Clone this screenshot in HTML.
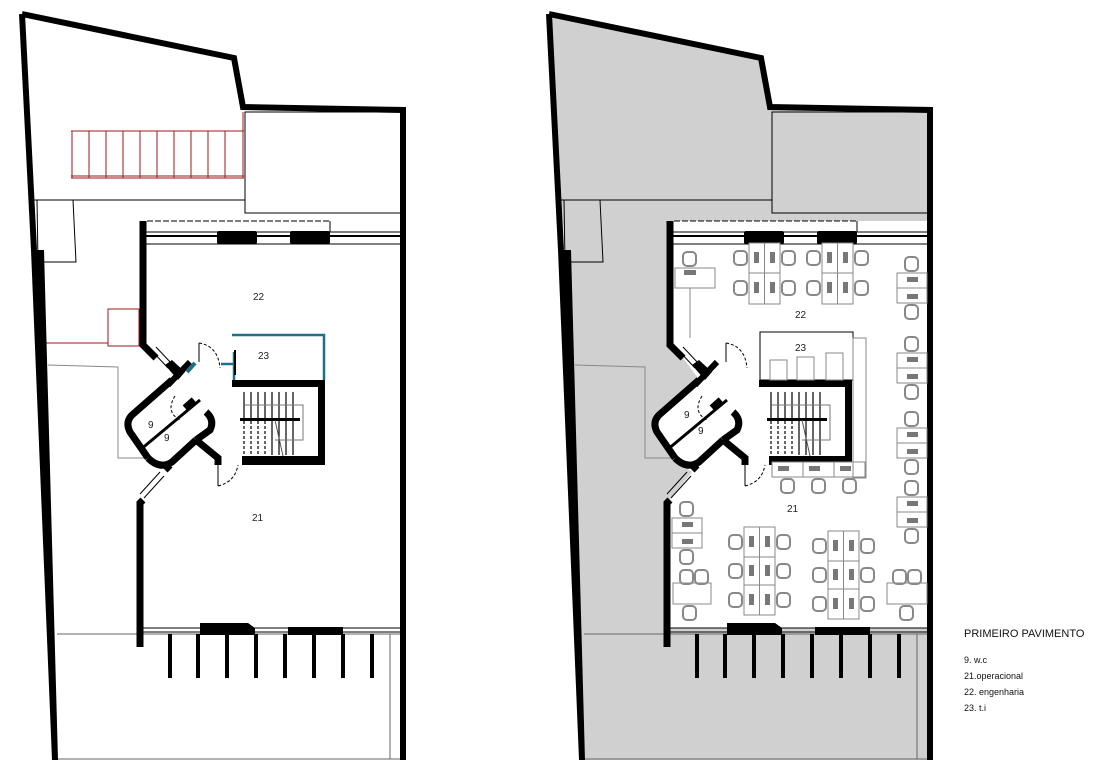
<!DOCTYPE html>
<html><head><meta charset="utf-8"><style>
html,body{margin:0;padding:0;background:#fff;}
svg{display:block;font-family:"Liberation Sans",sans-serif;}
</style></head><body>
<svg width="1099" height="781" viewBox="0 0 1099 781" xmlns="http://www.w3.org/2000/svg">
<defs>
<g id="base">
  <g fill="none" stroke="#000" stroke-width="1">
    <rect x="245" y="112" width="156" height="101"/>
    <line x1="34" y1="200" x2="245" y2="200"/>
    <polyline points="37,200 38,262 76,262 73,200"/>
    <line x1="57" y1="634" x2="403" y2="634" stroke="#666"/>
    <line x1="58" y1="759" x2="403" y2="759" stroke="#666"/>
    <line x1="390" y1="634" x2="390" y2="759" stroke="#666"/>
    <polyline points="48,365 118,367 118,458 148,458" stroke="#888"/>
    <line x1="147" y1="221" x2="330" y2="221" stroke-dasharray="6,2"/>
    <line x1="330" y1="221" x2="330" y2="232"/>
  </g>
  <polyline points="22,14 234,58 243,107 403,110 403,760" fill="none" stroke="#000" stroke-width="6" stroke-linejoin="miter"/>
  <polyline points="22,14 34,250" fill="none" stroke="#000" stroke-width="6"/>
  <polygon points="31,250 44,250 58,760 52,760" fill="#000"/>
  <g stroke="#000" stroke-width="1">
    <line x1="146" y1="232" x2="400" y2="232"/>
    <line x1="146" y1="236" x2="400" y2="236" stroke-width="2"/>
    <line x1="146" y1="244" x2="400" y2="244"/>
  </g>
  <rect x="217" y="231" width="40" height="13" rx="2" fill="#000"/>
  <rect x="290" y="231" width="40" height="13" rx="2" fill="#000"/>
  <g stroke="#000" stroke-width="1">
    <line x1="143" y1="628" x2="400" y2="628"/>
    <line x1="143" y1="632" x2="400" y2="632"/>
  </g>
  <polygon points="200,623 248,623 255,628 255,635 200,635" fill="#000"/>
  <rect x="288" y="627" width="55" height="8" fill="#000"/>
  <g fill="#000">
    <rect x="168" y="634" width="4" height="44"/><rect x="196" y="634" width="4" height="44"/>
    <rect x="225" y="634" width="4" height="44"/><rect x="254" y="634" width="4" height="44"/>
    <rect x="283" y="634" width="4" height="44"/><rect x="312" y="634" width="4" height="44"/>
    <rect x="341" y="634" width="4" height="44"/><rect x="370" y="634" width="4" height="44"/>
  </g>
  <polyline points="143,221 143,345 156,358" fill="none" stroke="#000" stroke-width="7"/>
  <g stroke="#000" stroke-width="1" fill="none">
    <line x1="152" y1="351" x2="168" y2="368"/><line x1="156" y1="347" x2="172" y2="364"/>
  </g>
  <polygon points="165,365 172,360 185,372 178,380" fill="#000"/>
  <polyline points="190,362 168,385" stroke="#000" stroke-width="6"/>
  <path d="M172,380 L132,415 Q125,422 130,432 L148,458" fill="none" stroke="#000" stroke-width="7"/>
  <path d="M148,458 Q160,470 172,462 L196,440" fill="none" stroke="#000" stroke-width="7"/>
  <line x1="140" y1="450" x2="200" y2="400" stroke="#000" stroke-width="3"/>
  <line x1="185" y1="408" x2="194" y2="400" stroke="#000" stroke-width="7"/>
  <path d="M206,412 Q215,420 210,430 L196,440" fill="none" stroke="#000" stroke-width="7"/>
  <polyline points="196,440 218,458 218,465" fill="none" stroke="#000" stroke-width="7"/>
  <path d="M175,396 Q165,412 180,420" fill="none" stroke="#000" stroke-width="1" stroke-dasharray="3,2"/>
  <path d="M218,486 Q235,482 238,465" fill="none" stroke="#000" stroke-width="1" stroke-dasharray="3,2"/>
  <line x1="218" y1="465" x2="218" y2="486" stroke="#000" stroke-width="1"/>
  <g stroke="#000" stroke-width="1" fill="none">
    <line x1="160" y1="472" x2="140" y2="494"/><line x1="164" y1="476" x2="144" y2="498"/>
  </g>
  <path d="M165,465 L170,470 M143,500 L140,503 L140,647" fill="none" stroke="#000" stroke-width="7"/>
  <path d="M199,343 Q218,346 220,368" fill="none" stroke="#000" stroke-width="1" stroke-dasharray="3,2"/>
  <line x1="199" y1="343" x2="199" y2="362" stroke="#000" stroke-width="1"/>
  <g fill="#000">
    <rect x="232" y="380" width="93" height="7"/>
    <rect x="318" y="380" width="7" height="85"/>
    <rect x="242" y="456" width="83" height="9"/>
    <rect x="240" y="418" width="60" height="3"/>
  </g>
  <g stroke="#000" stroke-width="1.2">
    <line x1="244" y1="392" x2="244" y2="418"/><line x1="251" y1="392" x2="251" y2="418"/>
    <line x1="258" y1="392" x2="258" y2="418"/><line x1="265" y1="392" x2="265" y2="418"/>
    <line x1="272" y1="392" x2="272" y2="418"/><line x1="279" y1="392" x2="279" y2="418"/>
    <line x1="286" y1="392" x2="286" y2="418"/><line x1="293" y1="392" x2="293" y2="418"/>
    <line x1="251" y1="421" x2="251" y2="455" stroke-dasharray="3,2"/><line x1="258" y1="421" x2="258" y2="455" stroke-dasharray="3,2"/>
    <line x1="265" y1="421" x2="265" y2="455" stroke-dasharray="3,2"/><line x1="272" y1="421" x2="272" y2="455"/>
    <line x1="279" y1="421" x2="279" y2="455"/><line x1="286" y1="421" x2="286" y2="455"/>
    <line x1="293" y1="421" x2="293" y2="455"/><line x1="244" y1="421" x2="244" y2="455" stroke-dasharray="3,2"/>
  </g>
  <polyline points="245,405 303,405 303,440 275,440" fill="none" stroke="#777" stroke-width="1"/>
  <line x1="275" y1="420" x2="283" y2="456" stroke="#555" stroke-width="1"/>
</g>
<g id="chV"><rect x="0" y="0" width="13" height="14" rx="4" fill="none" stroke="#888" stroke-width="2"/></g>
<g id="cl2">
  <rect x="0" y="0" width="31" height="61" fill="#fff" stroke="#888"/>
  <line x1="15.5" y1="0" x2="15.5" y2="61" stroke="#888"/><line x1="0" y1="30" x2="31" y2="30" stroke="#888"/>
  <rect x="5" y="9" width="5" height="11" fill="#777"/><rect x="21" y="9" width="5" height="11" fill="#777"/>
  <rect x="5" y="39" width="5" height="11" fill="#777"/><rect x="21" y="39" width="5" height="11" fill="#777"/>
  <use href="#chV" x="-15" y="8"/><use href="#chV" x="33" y="8"/>
  <use href="#chV" x="-15" y="38"/><use href="#chV" x="33" y="38"/>
</g>
<g id="cl3">
  <rect x="0" y="0" width="31" height="88" fill="#fff" stroke="#888"/>
  <line x1="15.5" y1="0" x2="15.5" y2="88" stroke="#888"/><line x1="0" y1="30" x2="31" y2="30" stroke="#888"/><line x1="0" y1="58" x2="31" y2="58" stroke="#888"/>
  <rect x="5" y="9" width="5" height="11" fill="#777"/><rect x="21" y="9" width="5" height="11" fill="#777"/>
  <rect x="5" y="38" width="5" height="11" fill="#777"/><rect x="21" y="38" width="5" height="11" fill="#777"/>
  <rect x="5" y="67" width="5" height="11" fill="#777"/><rect x="21" y="67" width="5" height="11" fill="#777"/>
  <use href="#chV" x="-15" y="8"/><use href="#chV" x="33" y="8"/>
  <use href="#chV" x="-15" y="37"/><use href="#chV" x="33" y="37"/>
  <use href="#chV" x="-15" y="66"/><use href="#chV" x="33" y="66"/>
</g>
<g id="st">
  <use href="#chV" x="8" y="-16"/>
  <rect x="0" y="0" width="30" height="30" fill="#fff" stroke="#888"/>
  <line x1="0" y1="15" x2="30" y2="15" stroke="#888"/>
  <rect x="10" y="4" width="11" height="5" fill="#777"/><rect x="10" y="21" width="11" height="5" fill="#777"/>
  <use href="#chV" x="8" y="32"/>
</g>
</defs>

<g fill="none" stroke="#a01818" stroke-width="1">
  <line x1="71" y1="131" x2="244" y2="131"/><line x1="71" y1="178" x2="244" y2="178"/>
  <line x1="71" y1="176" x2="244" y2="176"/>
  <line x1="72" y1="131" x2="72" y2="178"/><line x1="89" y1="131" x2="89" y2="178"/>
  <line x1="106" y1="131" x2="106" y2="178"/><line x1="123" y1="131" x2="123" y2="178"/>
  <line x1="140" y1="131" x2="140" y2="178"/><line x1="157" y1="131" x2="157" y2="178"/>
  <line x1="174" y1="131" x2="174" y2="178"/><line x1="191" y1="131" x2="191" y2="178"/>
  <line x1="208" y1="131" x2="208" y2="178"/><line x1="225" y1="131" x2="225" y2="178"/>
  <line x1="243" y1="112" x2="243" y2="178"/>
  <rect x="108" y="309" width="31" height="37"/>
  <line x1="46" y1="343" x2="108" y2="343"/>
</g>
<use href="#base"/>
<g fill="none" stroke="#1f6f8b" stroke-width="2.5">
  <polyline points="232,335 324,335 324,380"/>
  <line x1="234" y1="352" x2="234" y2="380"/>
  <polyline points="221,364 234,364"/>
  <line x1="187" y1="372" x2="195" y2="363" stroke-width="4"/>
</g>
<line x1="235" y1="350" x2="235" y2="375" stroke="#000" stroke-width="2"/>
<g font-size="10" fill="#222">
  <text x="253" y="300">22</text><text x="258" y="359">23</text>
  <text x="252" y="521">21</text><text x="148" y="428">9</text><text x="164" y="441">9</text>
</g>

<polygon points="549,14 761,58 770,107 930,110 930,760 585,760 575,400" fill="#d0d0d0"/>
<polygon points="670,221 928,221 928,628 667,628 667,503 692,472 677,462 655,433 656,415 698,378 683,358 670,345" fill="#fff"/>
<use href="#base" transform="translate(527,0)"/>
<use href="#cl2" x="749" y="243"/>
<use href="#cl2" x="822" y="243"/>
<use href="#cl3" x="744" y="527"/>
<use href="#cl3" x="828" y="531"/>
<use href="#st" x="897" y="273"/>
<use href="#st" x="897" y="353"/>
<use href="#st" x="897" y="428"/>
<use href="#st" x="897" y="497"/>
<use href="#st" x="672" y="518"/>
<g stroke="#888" fill="#fff">
  <rect x="675" y="268" width="40" height="20"/>
  <line x1="690" y1="288" x2="690" y2="338" fill="none"/>
  <rect x="772" y="462" width="93" height="15"/>
  <line x1="803" y1="462" x2="803" y2="477"/><line x1="834" y1="462" x2="834" y2="477"/>
  <rect x="673" y="583" width="38" height="21"/>
  <rect x="887" y="583" width="40" height="21"/>
  <rect x="760" y="332" width="93" height="48" fill="none" stroke="#000"/>
  <rect x="770" y="360" width="17" height="20"/><rect x="797" y="357" width="17" height="23"/><rect x="826" y="353" width="17" height="27"/>
  <rect x="853" y="338" width="13" height="140" fill="none"/>
</g>
<use href="#chV" x="683" y="252"/>
<use href="#chV" x="781" y="479"/><use href="#chV" x="812" y="479"/><use href="#chV" x="843" y="479"/>
<use href="#chV" x="680" y="570"/><use href="#chV" x="695" y="570"/><use href="#chV" x="683" y="606"/>
<use href="#chV" x="893" y="570"/><use href="#chV" x="908" y="570"/><use href="#chV" x="900" y="606"/>
<g fill="#777"><rect x="684" y="270" width="12" height="5"/><rect x="778" y="466" width="11" height="5"/><rect x="809" y="466" width="11" height="5"/><rect x="840" y="466" width="11" height="5"/></g>
<g font-size="10" fill="#222">
  <text x="795" y="318">22</text><text x="795" y="351">23</text>
  <text x="787" y="512">21</text><text x="684" y="418">9</text><text x="698" y="434">9</text>
</g>

<g fill="#111" font-size="10">
  <text x="964" y="637" font-size="11">PRIMEIRO PAVIMENTO</text>
  <text x="964" y="663" font-size="9">9. w.c</text>
  <text x="964" y="679" font-size="9">21.operacional</text>
  <text x="964" y="695" font-size="9">22. engenharia</text>
  <text x="964" y="711" font-size="9">23. t.i</text>
</g>
</svg>
</body></html>
